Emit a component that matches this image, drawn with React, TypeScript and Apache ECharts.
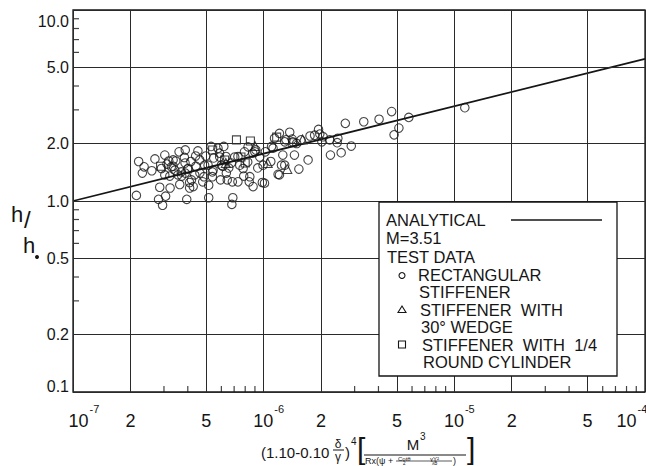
import React, { useEffect, useRef } from 'react';
import * as echarts from 'echarts';

const FONT = '"Liberation Sans", Arial, sans-serif';
const INK = '#151515';

// Axis grid values and tick labels
const xGridValues = [1e-7, 2e-7, 5e-7, 1e-6, 2e-6, 5e-6, 1e-5, 2e-5, 5e-5, 1e-4];
const xTickMain = ['10', '2', '5', '10', '2', '5', '10', '2', '5', '10'];
const xTickSup = ['-7', '', '', '-6', '', '', '-5', '', '', '-4'];
const yGridValues = [0.1, 0.2, 0.5, 1, 2, 5, 10];
const yTickLabels = ['0.1', '0.2', '0.5', '1.0', '2.0', '5.0', '10.0'];
const xMinorTicks = [3e-7, 4e-7, 6e-7, 7e-7, 8e-7, 9e-7, 3e-6, 4e-6, 6e-6, 7e-6, 8e-6, 9e-6, 3e-5, 4e-5, 6e-5, 7e-5, 8e-5, 9e-5];
const yMinorTicks = [0.3, 0.4, 0.6, 0.7, 0.8, 0.9, 3, 4, 6, 7, 8, 9];

// Analytical curve, M = 3.51
const analyticalX = [1e-7, 1e-4];
const analyticalY = [1.0, 5.55];

// Test data: rectangular stiffener (circles)
const circleX = [
  2.15e-7, 2.21e-7, 2.36e-7, 2.31e-7, 2.59e-7, 2.69e-7, 2.85e-7, 3.23e-7, 2.81e-7, 3.06e-7,
  2.95e-7, 3.18e-7, 3.11e-7, 3.28e-7, 3.35e-7, 3.42e-7, 3.63e-7, 3.70e-7, 3.84e-7, 3.87e-7,
  3.95e-7, 3.55e-7, 2.91e-7, 3.03e-7, 4.52e-7, 4.15e-7, 4.02e-7, 4.62e-7, 4.90e-7, 4.35e-7,
  4.18e-7, 4.27e-7, 5.15e-7, 5.15e-7, 5.43e-7, 5.76e-7, 5.88e-7, 6.00e-7, 6.37e-7, 6.44e-7,
  6.77e-7, 7.05e-7, 7.33e-7, 6.89e-7, 6.81e-7, 7.80e-7, 8.28e-7, 8.46e-7, 8.80e-7, 8.98e-7,
  9.54e-7, 9.93e-7, 1.01e-6, 1.09e-6, 1.12e-6, 1.19e-6, 1.24e-6, 1.21e-6, 1.14e-6, 1.37e-6,
  1.29e-6, 1.42e-6, 1.49e-6, 1.75e-6, 1.85e-6, 1.94e-6, 1.97e-6, 2.02e-6, 2.22e-6, 2.45e-6,
  2.43e-6, 2.88e-6, 2.68e-6, 3.35e-6, 4.03e-6, 2.55e-6, 2.24e-6, 1.71e-6, 1.45e-6, 1.26e-6,
  1.29e-6, 1.53e-6, 1.21e-6, 4.69e-6, 5.77e-6, 5.12e-6, 4.83e-6, 1.135e-5, 4.09e-7, 4.09e-7,
  4.86e-7, 6.85e-7, 8.40e-7, 3.03e-7, 3.88e-7, 3.60e-7, 5.30e-7, 6.18e-7, 5.87e-7, 6.34e-7,
  3.35e-7, 3.99e-7, 4.41e-7, 4.63e-7, 5.11e-7, 5.38e-7, 6.10e-7, 3.88e-7, 5.38e-7, 5.94e-7,
  7.33e-7, 7.93e-7, 8.77e-7, 9.10e-7, 1.02e-6, 1.10e-6, 9.84e-7, 1.57e-6, 1.41e-6, 1.31e-6,
  2.05e-6, 3.46e-7, 4.40e-7, 4.97e-7, 5.47e-7, 6.56e-7, 7.49e-7, 8.25e-7, 9.31e-7, 3.72e-7,
  3.22e-7, 4.79e-7, 7.86e-7
];
const circleY = [
  1.07, 1.61, 1.51, 1.40, 1.44, 1.66, 1.18, 1.17, 1.02, 1.06,
  0.95, 1.62, 1.56, 1.51, 1.64, 1.45, 1.22, 1.42, 1.69, 1.58,
  1.02, 1.37, 1.48, 1.37, 1.83, 1.61, 1.48, 1.64, 1.54, 1.37,
  1.29, 1.19, 1.21, 1.04, 1.45, 1.89, 1.70, 1.54, 1.40, 1.29,
  1.58, 1.70, 1.26, 1.04, 0.96, 1.48, 1.92, 1.34, 1.19, 1.81,
  1.70, 1.54, 1.24, 1.61, 1.89, 1.38, 1.54, 2.26, 2.13, 2.29,
  2.04, 2.04, 2.00, 2.19, 2.21, 2.37, 2.24, 2.04, 2.09, 2.13,
  2.02, 1.94, 2.55, 2.60, 2.68, 1.79, 1.74, 1.64, 1.74, 1.74,
  1.54, 1.47, 1.37, 2.94, 2.74, 2.41, 2.22, 3.08, 1.17, 1.25,
  1.34, 1.26, 1.26, 1.74, 1.85, 1.81, 1.93, 1.93, 1.78, 1.71,
  1.52, 1.47, 1.52, 1.40, 1.54, 1.42, 1.52, 1.40, 1.34, 1.29,
  1.71, 1.81, 1.78, 1.85, 1.81, 1.93, 1.25, 2.09, 2.11, 2.09,
  2.17, 1.62, 1.72, 1.72, 1.68, 1.49, 1.54, 1.60, 1.49, 1.35,
  1.35, 1.26, 1.35
];

// Stiffener with 30 deg wedge (triangles)
const triangleX = [1.05e-6, 1.33e-6, 1.60e-6, 6.33e-7, 9.0e-7];
const triangleY = [1.58, 1.47, 2.10, 1.58, 1.94];

// Stiffener with 1/4 round cylinder (squares)
const squareX = [7.2e-7, 8.52e-7, 7.6e-7, 8.0e-7, 1.17e-6, 1.42e-6, 2.88e-7, 6.24e-7, 5.40e-7];
const squareY = [2.09, 2.06, 1.70, 1.58, 2.16, 2.02, 1.52, 1.64, 1.85];

const zip = (xs: number[], ys: number[]) => xs.map((x, i) => [x, ys[i]]);

export default function App() {
  const ref = useRef<HTMLDivElement>(null);

  useEffect(() => {
    if (!ref.current) return;
    const chart = echarts.init(ref.current, undefined, { renderer: 'svg' });

    const xLabelData = xGridValues.map((v, i) => {
      const sup = xTickSup[i];
      let off = 0;
      if (i === 0) off = 11;
      else if (i === xGridValues.length - 1) off = -13;
      else if (sup) off = 5;
      return {
        xAxis: v,
        label: {
          formatter: sup ? `{a|${xTickMain[i]}}{b|${sup}}` : `{a|${xTickMain[i]}}`,
          offset: [off, 0],
        },
      };
    });

    const yLabelData = yGridValues.map((v, i) => {
      let off = 0;
      if (i === 0) off = -6;
      else if (i === yGridValues.length - 1) off = 11;
      return { yAxis: v, label: { formatter: yTickLabels[i], offset: [0, off] } };
    });

    const legendText = (text: string, x: number, y: number) => ({
      type: 'text',
      x,
      y,
      z: 101,
      style: { text, fill: INK, fontSize: 16.5, fontFamily: FONT, verticalAlign: 'middle', align: 'left' },
    });

    const t = (text: string, x: number, y: number, size: number, align = 'left') => ({
      type: 'text',
      x,
      y,
      style: { text, fill: INK, fontSize: size, fontFamily: FONT, align, verticalAlign: 'middle' },
    });

    const option: any = {
      animation: false,
      backgroundColor: '#ffffff',
      grid: {
        left: 73,
        top: 10,
        width: 572,
        height: 382,
        show: true,
        borderColor: INK,
        borderWidth: 1.3,
        backgroundColor: 'transparent',
      },
      xAxis: {
        type: 'log',
        logBase: 10,
        min: 1e-7,
        max: 1e-4,
        axisLine: { show: false },
        axisTick: { show: false },
        axisLabel: { show: false },
        splitLine: { show: false },
      },
      yAxis: {
        type: 'log',
        logBase: 10,
        min: 0.1,
        max: 10,
        axisLine: { show: false },
        axisTick: { show: false },
        axisLabel: { show: false },
        splitLine: { show: false },
      },
      series: [
        {
          type: 'line',
          data: [],
          silent: true,
          z: 1,
          markLine: {
            silent: true,
            precision: 14,
            symbol: ['none', 'none'],
            animation: false,
            lineStyle: { color: '#2a2a2a', width: 1, type: 'solid' },
            emphasis: { disabled: true },
            label: {
              show: true,
              position: 'start',
              distance: 16,
              color: INK,
              fontFamily: FONT,
              rich: {
                a: { fontSize: 18, lineHeight: 17, padding: [9, 0, 0, 0], fontFamily: FONT, color: INK },
                b: { fontSize: 11, lineHeight: 11, padding: [0, 0, 15, 1], fontFamily: FONT, color: INK },
              },
            },
            data: xLabelData,
          },
        },
        {
          type: 'line',
          data: [],
          silent: true,
          z: 1,
          markLine: {
            silent: true,
            precision: 6,
            symbol: ['none', 'none'],
            animation: false,
            lineStyle: { color: '#2a2a2a', width: 1, type: 'solid' },
            emphasis: { disabled: true },
            label: {
              show: true,
              position: 'start',
              distance: 4,
              color: INK,
              fontFamily: FONT,
              fontSize: 16,
            },
            data: yLabelData,
          },
        },
        {
          type: 'scatter',
          data: xMinorTicks.map((v) => [v, 0.1]),
          symbol: 'rect',
          symbolSize: [1.2, 6],
          symbolOffset: [0, -3],
          itemStyle: { color: INK },
          silent: true,
          clip: false,
          z: 2,
        },
        {
          type: 'scatter',
          data: yMinorTicks.map((v) => [1e-7, v]),
          symbol: 'rect',
          symbolSize: [6, 1.2],
          symbolOffset: [3, 0],
          itemStyle: { color: INK },
          silent: true,
          clip: false,
          z: 2,
        },
        {
          name: 'ANALYTICAL',
          type: 'line',
          data: zip(analyticalX, analyticalY),
          showSymbol: false,
          symbol: 'none',
          lineStyle: { color: INK, width: 1.8 },
          silent: true,
          z: 3,
        },
        {
          name: 'RECTANGULAR STIFFENER',
          type: 'scatter',
          data: zip(circleX, circleY),
          symbol: 'circle',
          symbolSize: 8.5,
          itemStyle: { color: 'rgba(0,0,0,0)', borderColor: INK, borderWidth: 1.1 },
          silent: true,
          z: 4,
        },
        {
          name: 'STIFFENER WITH 30° WEDGE',
          type: 'scatter',
          data: zip(triangleX, triangleY),
          symbol: 'triangle',
          symbolSize: 9,
          itemStyle: { color: 'rgba(0,0,0,0)', borderColor: INK, borderWidth: 1.1 },
          silent: true,
          z: 4,
        },
        {
          name: 'STIFFENER WITH 1/4 ROUND CYLINDER',
          type: 'scatter',
          data: zip(squareX, squareY),
          symbol: 'rect',
          symbolSize: 8,
          itemStyle: { color: 'rgba(0,0,0,0)', borderColor: INK, borderWidth: 1.1 },
          silent: true,
          z: 4,
        },
      ],
      graphic: [
        // legend box
        {
          type: 'rect',
          z: 100,
          shape: { x: 379, y: 202, width: 238, height: 174 },
          style: { fill: '#ffffff', stroke: INK, lineWidth: 1.3 },
        },
        legendText('ANALYTICAL', 386, 220),
        { type: 'line', z: 101, shape: { x1: 511, y1: 220, x2: 602, y2: 220 }, style: { stroke: INK, lineWidth: 1.6 } },
        legendText('M=3.51', 386, 238),
        legendText('TEST DATA', 387, 256.5),
        { type: 'circle', z: 101, shape: { cx: 402, cy: 275.5, r: 3 }, style: { fill: 'none', stroke: INK, lineWidth: 1.1 } },
        legendText('RECTANGULAR', 418, 275),
        legendText('STIFFENER', 419, 292),
        { type: 'polygon', z: 101, shape: { points: [[402, 306], [398, 312.5], [406, 312.5]] }, style: { fill: 'none', stroke: INK, lineWidth: 1.1 } },
        legendText('STIFFENER  WITH', 420, 309.5),
        legendText('30° WEDGE', 421, 326.5),
        { type: 'rect', z: 101, shape: { x: 398.5, y: 341, width: 7, height: 7 }, style: { fill: 'none', stroke: INK, lineWidth: 1.1 } },
        legendText('STIFFENER  WITH  1/4', 422, 344.5),
        legendText('ROUND CYLINDER', 423, 362),
        // y-axis title h/h0
        { type: 'text', x: 11, y: 203, style: { text: 'h', fill: INK, fontSize: 22, fontFamily: FONT } },
        { type: 'text', x: 24, y: 207, style: { text: '/', fill: INK, fontSize: 24, fontFamily: FONT } },
        { type: 'text', x: 23, y: 234, style: { text: 'h', fill: INK, fontSize: 22, fontFamily: FONT } },
        { type: 'circle', shape: { cx: 37, cy: 257, r: 2 }, style: { fill: INK } },
        // x-axis title formula
        t('(1.10-0.10', 261, 452, 15),
        t('δ', 338, 444, 12, 'center'),
        { type: 'line', shape: { x1: 333, y1: 450, x2: 344, y2: 450 }, style: { stroke: INK, lineWidth: 1 } },
        t('γ', 338, 457, 12, 'center'),
        t(')', 345, 452, 15),
        t('4', 351, 441, 10),
        t('[', 357, 448, 30),
        t('M', 413, 444, 15, 'center'),
        t('3', 420, 436, 10),
        { type: 'line', shape: { x1: 364, y1: 455, x2: 466, y2: 455 }, style: { stroke: INK, lineWidth: 1.1 } },
        t('Rx(ψ +', 365, 460.5, 9),
        t('Cotθ', 398, 458.5, 6),
        t('2', 403, 463.3, 4.5),
        t('γY²', 430, 458.5, 6),
        t('λB', 432, 463.3, 4.5),
        { type: 'line', shape: { x1: 396, y1: 461, x2: 452, y2: 461 }, style: { stroke: INK, lineWidth: 0.7 } },
        t(')', 453, 460.5, 9),
        t(']', 467, 448, 30),
      ],
    };

    chart.setOption(option);
    return () => {
      chart.dispose();
    };
  }, []);

  return (
    <div
      ref={ref}
      style={{ position: 'fixed', left: 0, top: 0, width: 646, height: 466, background: '#fff' }}
    />
  );
}
